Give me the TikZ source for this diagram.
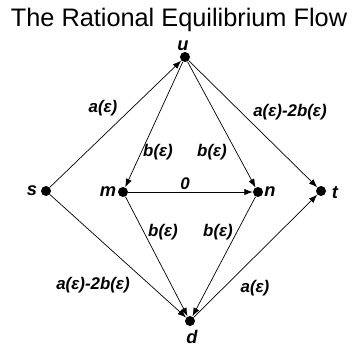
\documentclass[tikz,border=0pt]{standalone}
\usepackage{fontspec}
\setmainfont{Liberation Sans}
\usetikzlibrary{arrows.meta}
\begin{document}
\begin{tikzpicture}[x=0.025cm, y=-0.025cm,
  vert/.style={circle, fill, inner sep=0pt, minimum size=0.25cm},
  lab/.style={font=\bfseries\itshape\fontsize{12}{14}\selectfont, inner sep=1pt},
  vname/.style={font=\bfseries\itshape\fontsize{13}{15}\selectfont, inner sep=1pt},
  flow/.style={-{Latex[length=6pt,width=4.5pt]}, line width=0.5pt}]
\useasboundingbox (0,0) rectangle (354,350);
\node[font=\fontsize{18}{21}\selectfont, anchor=base] (title) at (179,26) {The Rational Equilibrium Flow};
% vertices
\foreach \name/\x/\y in {u/185/57, s/46/191, m/123/192, n/258/192, t/321/191, d/190/321}
  \node[vert] (\name) at (\x,\y) {};
% vertex names
\foreach \name/\x/\y in {u/183/46, s/32/191, m/108/192, n/270/192, t/335/193, d/192/337}
  \node[vname] (l\name) at (\x,\y) {\name};
% flows
\foreach \a/\b in {s/u, u/m, u/n, u/t, m/n, s/d, m/d, n/d, d/t}
  \draw[flow] (\a) -- (\b);
% flow values
\node[lab] (fsu) at (103,108) {a(ε)};
\node[lab] (fum) at (158,152) {b(ε)};
\node[lab] (fun) at (212,152) {b(ε)};
\node[lab] (fut) at (290,112) {a(ε)-2b(ε)};
\node[lab] (fmn) at (185,184) {0};
\node[lab] (fmd) at (163,232) {b(ε)};
\node[lab] (fnd) at (218,232) {b(ε)};
\node[lab] (fsd) at (93,285) {a(ε)-2b(ε)};
\node[lab] (fdt) at (255,288) {a(ε)};
\end{tikzpicture}
\end{document}
